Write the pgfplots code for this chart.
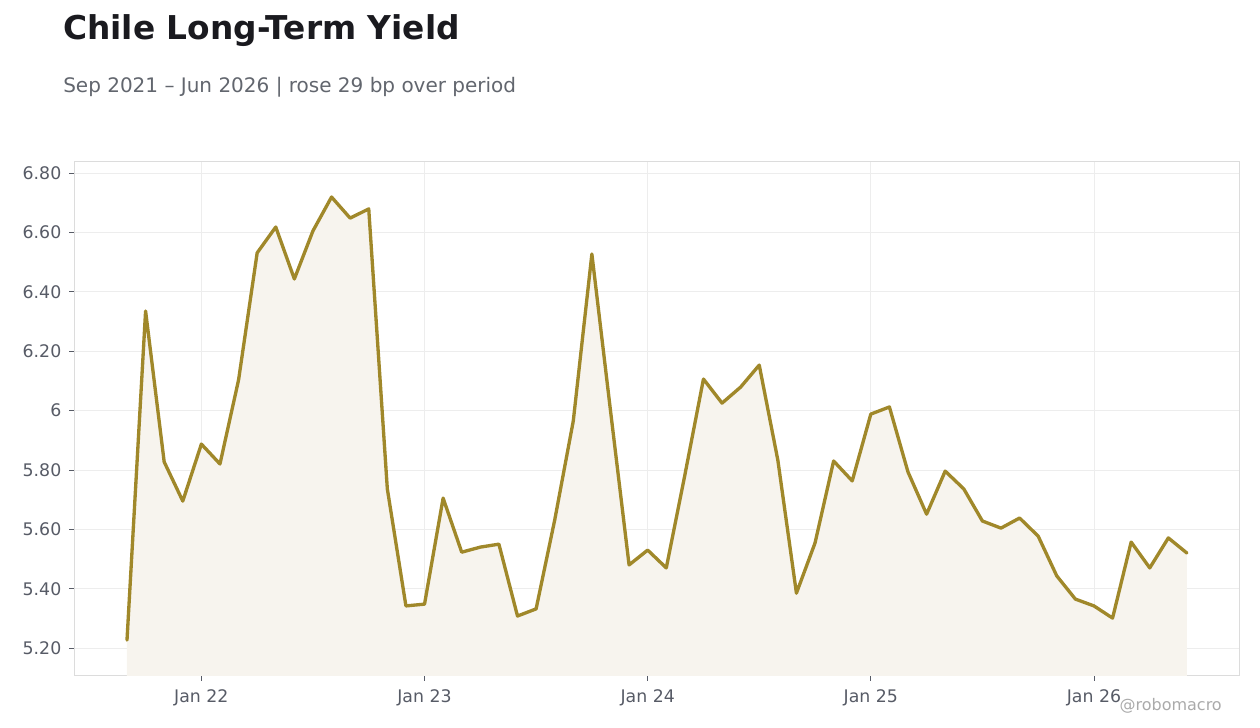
\documentclass[border=0pt]{standalone}
\usepackage{pgfplots}
\pgfplotsset{compat=1.18}
\usepackage{fontspec}
\setmainfont{DejaVu Sans}
\definecolor{linec}{HTML}{A0882A}
\definecolor{fillc}{HTML}{F7F4EE}
\definecolor{gridc}{HTML}{EDEDED}
\definecolor{axc}{HTML}{DCDCDC}
\definecolor{tickc}{HTML}{575B66}
\definecolor{subc}{HTML}{62666E}
\definecolor{titc}{HTML}{1A1A1F}
\definecolor{wmc}{HTML}{AAAAAA}
\pgfplotstableread{
m y
0 5.227
1 6.335
2 5.827
3 5.695
4 5.887
5 5.820
6 6.103
7 6.531
8 6.618
9 6.443
10 6.605
11 6.719
12 6.648
13 6.679
14 5.736
15 5.342
16 5.348
17 5.705
18 5.523
19 5.540
20 5.550
21 5.308
22 5.332
23 5.631
24 5.965
25 6.527
26 6.000
27 5.480
28 5.530
29 5.470
30 5.783
31 6.106
32 6.025
33 6.079
34 6.153
35 5.833
36 5.385
37 5.554
38 5.830
39 5.763
40 5.988
41 6.012
42 5.793
43 5.651
44 5.796
45 5.736
46 5.628
47 5.604
48 5.638
49 5.577
50 5.443
51 5.365
52 5.342
53 5.301
54 5.557
55 5.470
56 5.571
57 5.520
}\yieldtable
\begin{document}
\begin{tikzpicture}
\path[use as bounding box] (0pt,0pt) rectangle (945pt,546pt);
\node[anchor=base west, inner sep=0pt, text=titc, font=\fontsize{24.6}{28}\selectfont\bfseries] at (47.25pt,516pt) {Chile Long-Term Yield};
\node[anchor=base west, inner sep=0pt, text=subc, font=\fontsize{15}{18}\selectfont] at (47.25pt,476.25pt) {Sep 2021 – Jun 2026 | rose 29 bp over period};
\begin{axis}[
  at={(55.5pt,39pt)}, anchor=south west,
  scale only axis, width=873.75pt, height=385.5pt,
  xmin=-2.85, xmax=59.8, ymin=5.106, ymax=6.837,
  axis line style={draw=axc, line width=0.75pt},
  grid=major, grid style={draw=gridc, line width=0.6pt},
  xtick={4,16,28,40,52},
  xticklabels={Jan 22,Jan 23,Jan 24,Jan 25,Jan 26},
  ytick={5.2,5.4,5.6,5.8,6.0,6.2,6.4,6.6,6.8},
  yticklabels={5.20,5.40,5.60,5.80,6,6.20,6.40,6.60,6.80},
  tick align=outside, major tick length=3.5pt,
  xtick pos=bottom, ytick pos=left,
  tick style={draw=tickc, line width=0.6pt},
  ticklabel style={text=tickc, font=\fontsize{13}{15}\selectfont},
  xticklabel style={yshift=-3.5pt},
  yticklabel style={xshift=-2.5pt},
  clip=true,
]
\addplot[draw=none, fill=fillc] table[x=m,y=y] {\yieldtable} \closedcycle;
\addplot[draw=linec, line width=2.5pt, line join=round, line cap=round] table[x=m,y=y] {\yieldtable};
\end{axis}
\node[anchor=base east, inner sep=0pt, text=wmc, font=\fontsize{12}{14}\selectfont] at (916.5pt,12.75pt) {@robomacro};
\end{tikzpicture}
\end{document}
